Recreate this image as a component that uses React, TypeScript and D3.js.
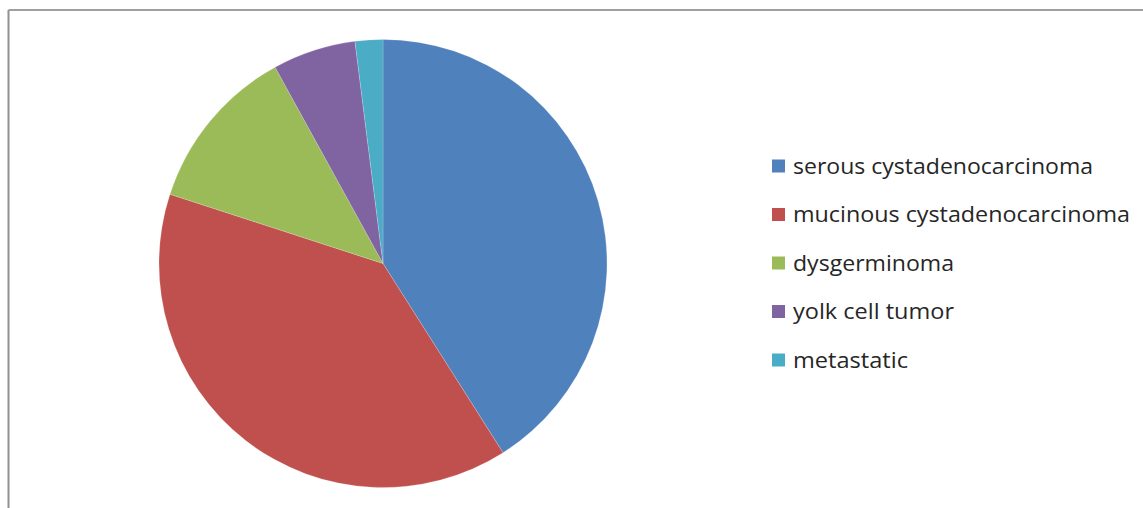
import React from "react";
import * as d3 from "d3";

const categories = [
  "serous cystadenocarcinoma",
  "mucinous cystadenocarcinoma",
  "dysgerminoma",
  "yolk cell tumor",
  "metastatic",
];
const values = [41, 39, 12, 6, 2];
const colors = ["#4F81BD", "#C0504D", "#9BBB59", "#8064A2", "#4BACC6"];
const labelWidths = [300, 337, 161, 161, 115];

export default function App() {
  const W = 1143;
  const H = 508;
  const cx = 383;
  const cy = 263.5;
  const r = 224;
  const pie = d3.pie<number>().sort(null).value((d) => d)(values);
  const arc = d3.arc<d3.PieArcDatum<number>>().innerRadius(0).outerRadius(r);
  const legendY = d3.scalePoint<number>().domain(d3.range(categories.length)).range([166, 360]);

  return (
    <svg
      width={W}
      height={H}
      style={{ position: "absolute", left: 0, top: 0, background: "#fff" }}
    >
      <rect x={0} y={0} width={W} height={H} fill="#fff" />
      <line x1={8.5} y1={10} x2={W} y2={10} stroke="#a0a0a0" strokeWidth={2} />
      <line x1={8.5} y1={10} x2={8.5} y2={H} stroke="#909090" strokeWidth={2} />
      <g transform={`translate(${cx},${cy})`}>
        {pie.map((p, i) => (
          <path key={i} d={arc(p) || ""} fill={colors[i]} stroke="#fff" strokeWidth={0.3} strokeOpacity={0.6} />
        ))}
      </g>
      <g>
        {categories.map((c, i) => {
          const y = legendY(i) as number;
          return (
            <g key={c}>
              <rect x={772} y={y - 6.5} width={13} height={13} fill={colors[i]} />
              <text
                x={793}
                y={y + 7.5}
                fontFamily="'Open Sans', 'Liberation Sans', sans-serif"
                fontSize={21}
                fill="#262626"
                textLength={labelWidths[i]}
                lengthAdjust="spacingAndGlyphs"
              >
                {c}
              </text>
            </g>
          );
        })}
      </g>
    </svg>
  );
}
